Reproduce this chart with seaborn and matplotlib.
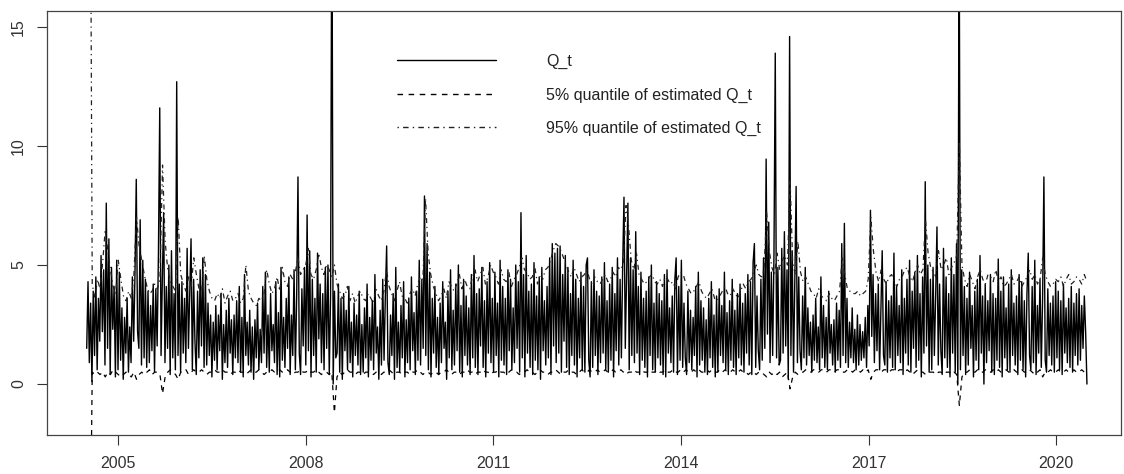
import numpy as np
import pandas as pd
import seaborn as sns
import matplotlib
matplotlib.use("Agg")
import matplotlib.pyplot as plt

# ---------------------------------------------------------------
# Q_t: 4 values per month, Jul 2004 .. Jun 2020
# ---------------------------------------------------------------
q_2004 = [1.5, 4.3, 0.9, 3.4,  0.1, 3.9, 1.2, 4.5,  0.6, 3.6, 1.8, 5.4,
          2.2, 4.8, 0.8, 7.6,  1.5, 6.1, 0.4, 4.9,  2.3, 4.1, 0.3, 5.2]
q_2005 = [0.6, 4.7, 1.0, 3.2,  0.2, 2.8, 1.3, 3.6,  0.5, 2.4, 0.9, 4.5,
          1.8, 4.6, 8.6, 2.2,  1.5, 6.9, 0.8, 5.2,  1.1, 4.4, 0.7, 3.9,
          0.9, 3.3, 1.4, 4.2,  0.5, 4.0, 1.6, 5.5,  11.6, 1.2, 4.4, 7.2,
          0.9, 4.1, 1.5, 5.0,  0.4, 5.6, 1.1, 3.8,  0.6, 12.7, 1.2, 4.2]
q_2006 = [0.5, 4.3, 1.3, 3.6,  0.9, 5.7, 1.5, 3.8,  6.1, 0.6, 4.4, 1.8,
          0.4, 3.9, 1.1, 4.8,  1.6, 5.3, 0.7, 4.6,  0.8, 3.4, 1.2, 2.9,
          0.3, 2.6, 1.0, 3.3,  0.6, 2.9, 1.4, 3.8,  0.2, 2.5, 0.9, 3.1,
          0.7, 3.6, 1.3, 2.7,  0.4, 2.9, 1.1, 3.5,  0.9, 4.1, 0.5, 2.8]
q_2007 = [0.3, 4.6, 1.2, 2.6,  0.8, 3.1, 0.5, 2.4,  0.2, 2.7, 1.1, 3.4,
          0.6, 2.3, 0.9, 4.1,  1.3, 4.7, 0.7, 2.9,  0.5, 3.8, 1.4, 2.5,
          0.9, 4.3, 0.4, 3.0,  0.3, 4.9, 1.0, 2.8,  0.7, 3.6, 1.5, 4.5,
          0.4, 2.9, 1.2, 4.8,  0.6, 3.7, 8.7, 1.3,  0.4, 4.0, 1.6, 4.9]
q_2008 = [0.8, 7.1, 1.4, 5.6,  0.3, 4.4, 1.2, 3.6,  0.5, 5.5, 1.9, 4.2,
          0.9, 3.8, 0.6, 4.9,  1.5, 5.0, 0.4, 3.7,  22.0, 0.0, 3.9, 1.1,
          1.3, 4.2, 0.5, 3.6,  0.2, 3.8, 1.4, 3.1,  0.6, 4.1, 0.9, 2.6,
          0.3, 3.4, 1.2, 2.9,  0.8, 3.9, 0.4, 2.5,  0.5, 3.2, 1.1, 4.2]
q_2009 = [0.3, 2.8, 1.0, 3.5,  0.6, 4.6, 1.3, 2.4,  0.2, 3.1, 0.8, 4.4,
          1.0, 3.7, 5.8, 0.9,  0.4, 2.9, 1.2, 3.8,  0.2, 4.9, 0.7, 2.6,
          0.5, 3.3, 1.1, 4.3,  0.3, 2.7, 0.9, 3.6,  0.6, 4.5, 1.4, 3.0,
          0.4, 3.9, 1.0, 5.2,  0.8, 4.4, 1.5, 7.9,  1.2, 5.9, 0.6, 4.7]
q_2010 = [0.3, 3.6, 1.3, 4.1,  0.7, 2.8, 0.4, 3.4,  0.9, 4.3, 1.5, 2.6,
          0.2, 3.9, 1.1, 4.8,  0.6, 3.1, 0.8, 4.2,  1.4, 5.0, 0.5, 3.3,
          0.3, 4.4, 1.2, 3.7,  0.8, 3.2, 0.4, 4.6,  1.1, 5.4, 0.7, 3.8,
          0.4, 4.0, 1.6, 4.9,  0.7, 3.5, 0.3, 4.3,  1.3, 5.1, 0.9, 3.6]
q_2011 = [0.5, 4.7, 1.2, 3.4,  0.3, 5.2, 1.0, 4.1,  0.8, 3.6, 0.4, 4.8,
          1.4, 4.4, 0.6, 3.2,  0.9, 5.0, 1.5, 4.3,  0.5, 7.2, 1.1, 4.6,
          0.3, 5.4, 1.3, 3.9,  0.7, 4.2, 0.4, 5.1,  1.0, 3.7, 0.6, 4.5,
          0.2, 4.9, 1.4, 3.5,  0.8, 4.1, 1.1, 5.3,  0.4, 5.9, 1.6, 5.5]
q_2012 = [0.9, 5.7, 1.3, 5.8,  0.5, 4.6, 1.8, 5.4,  0.7, 4.9, 0.4, 3.8,
          1.2, 5.2, 0.8, 4.4,  0.3, 3.6, 1.1, 4.7,  0.6, 4.1, 0.5, 5.0,
          5.3, 1.0, 0.3, 4.3,  0.7, 4.8, 1.2, 3.9,  0.4, 3.7, 0.9, 4.5,
          1.3, 5.1, 0.6, 3.5,  0.5, 4.2, 1.0, 4.9,  0.3, 3.8, 1.4, 5.3]
q_2013 = [0.8, 4.4, 1.1, 5.0,  7.85, 1.5, 4.6, 7.6,  0.6, 5.3, 1.2, 4.8,
          0.9, 6.4, 1.3, 4.1,  0.4, 4.7, 1.0, 3.6,  0.7, 3.9, 0.3, 4.5,
          1.2, 5.0, 0.6, 3.4,  0.5, 4.3, 1.1, 3.8,  0.8, 3.5, 0.4, 4.6,
          0.3, 4.8, 1.3, 3.2,  0.9, 3.7, 0.5, 4.4,  5.3, 0.4, 4.1, 1.0]
q_2014 = [5.2, 0.7, 3.4, 1.1,  0.4, 3.9, 0.9, 3.1,  0.6, 2.8, 1.2, 4.1,
          0.3, 4.7, 0.8, 3.5,  1.0, 3.2, 0.5, 2.7,  0.4, 3.6, 1.1, 4.3,
          0.7, 2.9, 0.3, 3.7,  0.5, 4.0, 1.2, 3.3,  0.9, 4.7, 0.6, 3.0,
          0.4, 3.5, 1.0, 4.4,  0.7, 3.1, 0.4, 3.8,  1.1, 4.2, 0.8, 3.4]
q_2015 = [0.5, 3.8, 1.3, 4.6,  0.8, 4.3, 0.4, 5.1,  5.9, 0.7, 3.7, 1.4,
          0.6, 4.4, 1.0, 5.3,  1.5, 9.45, 2.1, 6.8,  0.9, 4.7, 1.2, 5.4,
          13.9, 1.1, 4.9, 0.8,  1.0, 5.7, 1.3, 6.4,  1.6, 4.8, 0.2, 14.6,
          1.2, 5.6, 0.5, 4.3,  8.3, 0.9, 4.5, 1.4,  0.6, 3.7, 1.1, 4.9]
q_2016 = [0.8, 3.2, 1.2, 2.6,  0.5, 2.9, 1.0, 3.6,  0.9, 2.4, 0.6, 4.5,
          1.1, 3.3, 0.7, 2.8,  0.6, 3.9, 1.3, 2.5,  0.8, 2.7, 0.5, 3.4,
          1.0, 3.1, 0.7, 5.9,  1.2, 6.75, 0.9, 3.6,  0.7, 2.6, 1.1, 3.2,
          0.9, 2.3, 0.6, 2.9,  0.8, 2.5, 1.0, 2.2,  1.1, 2.8, 0.7, 3.3]
q_2017 = [1.6, 7.3, 2.0, 4.6,  0.9, 3.8, 1.4, 4.2,  0.6, 3.1, 5.6, 1.2,
          0.8, 4.3, 0.5, 3.5,  1.1, 3.7, 0.7, 5.5,  0.6, 4.1, 1.2, 3.3,
          0.9, 4.8, 0.4, 3.6,  1.3, 4.4, 0.8, 5.2,  0.5, 3.9, 1.5, 4.7,
          0.7, 5.4, 1.0, 3.8,  0.3, 4.5, 1.3, 8.5,  1.6, 5.0, 0.5, 4.4]
q_2018 = [0.6, 4.9, 1.2, 3.7,  6.6, 0.8, 4.2, 1.4,  0.4, 5.7, 1.1, 4.5,
          0.7, 3.8, 0.3, 5.3,  1.3, 4.6, 0.5, 5.9,  0.0, 20.0, 0.6, 4.8,
          1.2, 4.1, 0.4, 3.6,  0.8, 4.7, 1.5, 3.3,  0.3, 3.9, 1.0, 4.4,
          0.6, 5.4, 1.3, 3.7,  0.0, 4.2, 0.9, 3.5,  1.4, 4.6, 0.5, 3.8]
q_2019 = [0.4, 3.6, 1.0, 5.25,  0.7, 3.9, 0.3, 4.5,  1.1, 3.2, 0.6, 4.2,
          0.5, 4.8, 1.2, 3.4,  0.8, 3.7, 0.4, 4.6,  1.0, 4.3, 0.6, 3.5,
          0.3, 3.8, 5.5, 1.2,  0.6, 4.1, 0.9, 5.2,  0.4, 3.3, 1.3, 4.4,
          0.7, 3.6, 8.7, 1.0,  0.5, 4.0, 1.2, 3.4,  0.8, 3.7, 0.5, 4.3]
q_2020 = [1.1, 3.9, 0.6, 3.5,  0.4, 4.2, 1.3, 3.2,  0.9, 3.6, 0.7, 4.1,
          0.5, 3.4, 1.2, 3.8,  0.8, 4.0, 1.0, 3.3,  1.5, 3.7, 2.2, 0.0]

# ---------------------------------------------------------------
# 95% quantile of estimated Q_t: 2 values per month
# ---------------------------------------------------------------
hi_2004 = [30.0, 4.2, 3.6, 4.4, 4.0, 5.1, 6.5, 5.6, 4.8, 4.1, 3.8, 5.2]
hi_2005 = [4.4, 3.7, 3.5, 3.9, 3.6, 4.6, 7.0, 5.8, 5.2, 4.6, 4.1, 3.8,
           3.9, 4.2, 4.0, 4.4, 9.2, 6.0, 4.8, 4.3, 4.1, 3.9, 7.0, 4.6]
hi_2006 = [4.2, 3.9, 4.5, 4.1, 5.3, 4.6, 4.0, 3.8, 5.4, 4.4, 3.9, 3.6,
           3.5, 3.8, 3.6, 4.0, 3.4, 3.7, 3.9, 3.5, 3.6, 3.8, 3.4, 3.6]
hi_2007 = [5.0, 3.9, 3.6, 3.4, 3.3, 3.6, 3.5, 3.8, 4.8, 4.2, 3.8, 4.0,
           4.5, 3.9, 4.9, 4.3, 4.1, 4.6, 4.4, 4.7, 5.3, 4.6, 4.8, 5.0]
hi_2008 = [5.7, 4.6, 4.4, 4.8, 5.5, 4.9, 4.6, 5.0, 4.8, 4.5, 5.0, 4.2,
           3.9, 3.6, 3.7, 4.1, 3.5, 3.8, 3.4, 3.7, 3.9, 3.6, 3.5, 3.8]
hi_2009 = [3.6, 3.4, 4.0, 3.7, 3.5, 3.9, 4.8, 4.1, 3.8, 3.5, 3.9, 4.3,
           3.7, 3.6, 3.4, 3.8, 4.0, 3.7, 4.2, 4.5, 4.4, 7.8, 5.5, 4.6]
hi_2010 = [4.1, 3.8, 3.5, 3.7, 4.0, 3.6, 4.3, 4.1, 3.9, 4.2, 4.6, 4.0,
           4.4, 4.1, 4.0, 4.5, 4.8, 4.3, 4.6, 4.9, 4.2, 4.5, 5.0, 4.7]
hi_2011 = [4.5, 4.2, 4.8, 4.4, 4.3, 4.7, 4.1, 4.4, 4.6, 4.9, 5.3, 4.8,
           4.7, 4.4, 4.5, 4.9, 4.2, 4.6, 4.4, 4.8, 4.9, 5.2, 5.6, 5.9]
hi_2012 = [5.8, 5.6, 5.3, 5.0, 4.7, 4.5, 4.9, 4.6, 4.3, 4.5, 4.6, 4.8,
           4.4, 4.2, 4.5, 4.3, 4.2, 4.4, 4.6, 4.3, 4.4, 4.7, 4.5, 4.9]
hi_2013 = [4.8, 5.1, 7.5, 6.6, 5.2, 4.8, 5.5, 4.6, 4.4, 4.2, 4.3, 4.5,
           4.6, 4.3, 4.2, 4.4, 4.1, 4.5, 4.4, 4.2, 4.3, 4.0, 4.5, 4.7]
hi_2014 = [4.6, 4.2, 4.0, 3.8, 3.9, 4.1, 4.3, 3.9, 3.7, 3.6, 3.8, 4.0,
           3.6, 3.5, 3.7, 3.9, 4.1, 3.8, 3.7, 4.0, 3.8, 3.6, 3.9, 4.2]
hi_2015 = [4.0, 4.3, 4.4, 4.7, 5.0, 4.6, 4.5, 4.8, 7.2, 5.6, 4.9, 4.6,
           5.5, 4.8, 5.2, 5.4, 5.0, 8.6, 5.1, 4.6, 6.0, 4.7, 4.3, 4.5]
hi_2016 = [4.2, 3.9, 3.8, 3.6, 4.0, 3.7, 3.6, 3.5, 3.8, 3.6, 3.5, 3.7,
           3.9, 5.3, 4.6, 4.0, 3.9, 3.8, 3.8, 3.9, 3.7, 3.8, 3.9, 4.4]
hi_2017 = [7.0, 5.6, 4.7, 4.3, 4.8, 4.4, 4.2, 4.5, 4.6, 4.3, 4.1, 4.4,
           4.5, 4.8, 4.9, 4.5, 4.3, 4.7, 5.0, 4.6, 4.8, 6.9, 5.5, 4.9]
hi_2018 = [4.7, 4.5, 5.6, 4.8, 5.0, 5.3, 4.6, 4.9, 5.1, 5.4, 10.2, 5.0,
           4.4, 4.1, 4.6, 4.3, 4.0, 4.5, 4.8, 4.4, 4.2, 4.6, 4.5, 4.3]
hi_2019 = [4.8, 4.3, 4.5, 4.1, 4.2, 4.4, 4.6, 4.2, 4.3, 4.5, 4.1, 4.3,
           4.5, 4.8, 4.4, 4.6, 4.2, 4.4, 5.3, 4.6, 4.3, 4.1, 4.2, 4.4]
hi_2020 = [4.3, 4.5, 4.1, 4.4, 4.6, 4.2, 4.3, 4.5, 4.4, 4.2, 4.6, 4.3]

# ---------------------------------------------------------------
# 5% quantile of estimated Q_t: 2 values per month
# ---------------------------------------------------------------
lo_2004 = [-10.0, 0.5, 0.4, 0.5, 0.4, 0.5, 0.3, 0.5, 0.4, 0.6, 0.5, 0.4]
lo_2005 = [0.3, 0.4, 0.5, 0.4, 0.3, 0.5, 0.2, 0.4, 0.5, 0.4, 0.5, 0.6,
           0.4, 0.5, 0.5, 0.4, -0.4, 0.3, 0.5, 0.6, 0.5, 0.4, 0.2, 0.5]
lo_2006 = [0.5, 0.6, 0.4, 0.5, 0.6, 0.5, 0.5, 0.6, 0.5, 0.4, 0.5, 0.5,
           0.6, 0.5, 0.5, 0.6, 0.5, 0.5, 0.4, 0.5, 0.5, 0.6, 0.5, 0.5]
lo_2007 = [0.4, 0.5, 0.6, 0.5, 0.5, 0.6, 0.5, 0.4, 0.5, 0.5, 0.6, 0.5,
           0.5, 0.6, 0.5, 0.5, 0.6, 0.5, 0.4, 0.5, 0.5, 0.6, 0.5, 0.5]
lo_2008 = [0.6, 0.5, 0.5, 0.6, 0.5, 0.4, 0.5, 0.5, 0.4, 0.5, -1.2, 0.3,
           0.5, 0.4, 0.5, 0.6, 0.5, 0.5, 0.4, 0.5, 0.5, 0.4, 0.5, 0.5]
lo_2009 = [0.5, 0.4, 0.5, 0.5, 0.4, 0.5, 0.5, 0.6, 0.5, 0.4, 0.5, 0.5,
           0.4, 0.5, 0.5, 0.4, 0.5, 0.5, 0.6, 0.5, 0.4, 0.5, 0.5, 0.4]
lo_2010 = [0.5, 0.5, 0.4, 0.5, 0.5, 0.6, 0.5, 0.4, 0.5, 0.5, 0.4, 0.5,
           0.5, 0.6, 0.5, 0.5, 0.4, 0.5, 0.5, 0.6, 0.5, 0.5, 0.4, 0.5]
lo_2011 = [0.5, 0.6, 0.5, 0.5, 0.4, 0.5, 0.6, 0.5, 0.5, 0.4, 0.5, 0.5,
           0.6, 0.5, 0.5, 0.4, 0.5, 0.6, 0.5, 0.5, 0.4, 0.5, 0.5, 0.6]
lo_2012 = [0.5, 0.4, 0.5, 0.5, 0.6, 0.5, 0.5, 0.4, 0.5, 0.6, 0.5, 0.5,
           0.6, 0.5, 0.5, 0.6, 0.5, 0.5, 0.6, 0.5, 0.5, 0.6, 0.5, 0.5]
lo_2013 = [0.6, 0.5, 0.4, 0.5, 0.5, 0.6, 0.5, 0.5, 0.6, 0.5, 0.5, 0.6,
           0.5, 0.5, 0.6, 0.5, 0.5, 0.6, 0.5, 0.5, 0.6, 0.5, 0.5, 0.6]
lo_2014 = [0.5, 0.6, 0.5, 0.5, 0.6, 0.5, 0.6, 0.5, 0.5, 0.6, 0.5, 0.6,
           0.5, 0.5, 0.6, 0.5, 0.6, 0.5, 0.5, 0.6, 0.5, 0.5, 0.6, 0.5]
lo_2015 = [0.5, 0.4, 0.5, 0.5, 0.4, 0.5, 0.5, 0.4, 0.3, 0.5, 0.4, 0.5,
           0.4, 0.5, 0.3, 0.4, 0.5, -0.2, 0.3, 0.5, 0.4, 0.5, 0.5, 0.6]
lo_2016 = [0.6, 0.5, 0.6, 0.6, 0.5, 0.6, 0.6, 0.5, 0.6, 0.6, 0.5, 0.6,
           0.6, 0.5, 0.5, 0.6, 0.6, 0.5, 0.6, 0.6, 0.5, 0.6, 0.5, 0.6]
lo_2017 = [0.2, 0.5, 0.6, 0.6, 0.5, 0.6, 0.6, 0.5, 0.6, 0.6, 0.5, 0.6,
           0.6, 0.5, 0.6, 0.5, 0.4, 0.5, 0.6, 0.5, 0.5, 0.4, 0.5, 0.5]
lo_2018 = [0.5, 0.4, 0.5, 0.5, 0.4, 0.5, 0.5, 0.4, 0.5, 0.4, -0.9, 0.3,
           0.5, 0.5, 0.6, 0.5, 0.5, 0.6, 0.5, 0.5, 0.6, 0.5, 0.5, 0.6]
lo_2019 = [0.5, 0.6, 0.5, 0.5, 0.6, 0.5, 0.5, 0.6, 0.5, 0.5, 0.6, 0.5,
           0.5, 0.6, 0.5, 0.4, 0.5, 0.6, 0.3, 0.5, 0.5, 0.6, 0.5, 0.5]
lo_2020 = [0.6, 0.5, 0.5, 0.6, 0.5, 0.5, 0.6, 0.5, 0.5, 0.6, 0.5, 0.6]

tick_years = [2005, 2008, 2011, 2014, 2017, 2020]
y_ticks = [0, 5, 10, 15]
labels = ["Q_t", "5% quantile of estimated Q_t", "95% quantile of estimated Q_t"]

q_t = np.concatenate([q_2004, q_2005, q_2006, q_2007, q_2008, q_2009, q_2010, q_2011,
                      q_2012, q_2013, q_2014, q_2015, q_2016, q_2017, q_2018, q_2019, q_2020])
q_hi = np.concatenate([hi_2004, hi_2005, hi_2006, hi_2007, hi_2008, hi_2009, hi_2010, hi_2011,
                       hi_2012, hi_2013, hi_2014, hi_2015, hi_2016, hi_2017, hi_2018, hi_2019, hi_2020])
q_lo = np.concatenate([lo_2004, lo_2005, lo_2006, lo_2007, lo_2008, lo_2009, lo_2010, lo_2011,
                       lo_2012, lo_2013, lo_2014, lo_2015, lo_2016, lo_2017, lo_2018, lo_2019, lo_2020])

t_q = pd.date_range("2004-07-01", "2020-06-30", periods=len(q_t))
t_band = pd.date_range("2004-07-18", "2020-06-30", periods=len(q_hi))

sns.set_style("ticks")
plt.rcParams["font.family"] = ["Liberation Sans", "DejaVu Sans"]

fig = plt.figure(figsize=(11.24, 4.74), dpi=100)
ax = fig.add_axes([47 / 1124, 39 / 474, 1074 / 1124, 424 / 474])

sns.lineplot(x=t_q, y=q_t, ax=ax, color="black", lw=1.0, sort=False, label=labels[0])
sns.lineplot(x=t_band, y=q_lo, ax=ax, color="black", lw=0.9, sort=False,
             linestyle=(0, (4, 4)), label=labels[1])
sns.lineplot(x=t_band, y=q_hi, ax=ax, color="#222222", lw=0.9, sort=False,
             linestyle=(0, (1, 3, 4, 3)), label=labels[2])

ax.set_xlim(pd.Timestamp("2003-11-12"), pd.Timestamp("2021-01-15"))
ax.set_ylim(-2.14, 15.67)
ax.set_xticks([pd.Timestamp(f"{y}-01-01") for y in tick_years])
ax.set_xticklabels([str(y) for y in tick_years])
ax.set_yticks(y_ticks)
ax.set_yticklabels([str(v) for v in y_ticks], rotation=90, va="center")
ax.set_xlabel("")
ax.set_ylabel("")
ax.tick_params(direction="out", length=7, width=0.8, colors="#333333",
               labelsize=11.5, pad=8)
for s in ax.spines.values():
    s.set_visible(True)
    s.set_color("#444444")
    s.set_linewidth(0.9)

leg = ax.legend(loc="upper left", bbox_to_anchor=(389 / 1124, 1 - 46 / 474),
                bbox_transform=fig.transFigure, frameon=False, borderpad=0,
                handlelength=6.2, handletextpad=3.15, labelspacing=1.15, fontsize=11.5)
for t in leg.get_texts():
    t.set_color("#222222")
for h in leg.get_lines():
    h.set_linewidth(1.0)

fig.savefig("out.png", dpi=100)
